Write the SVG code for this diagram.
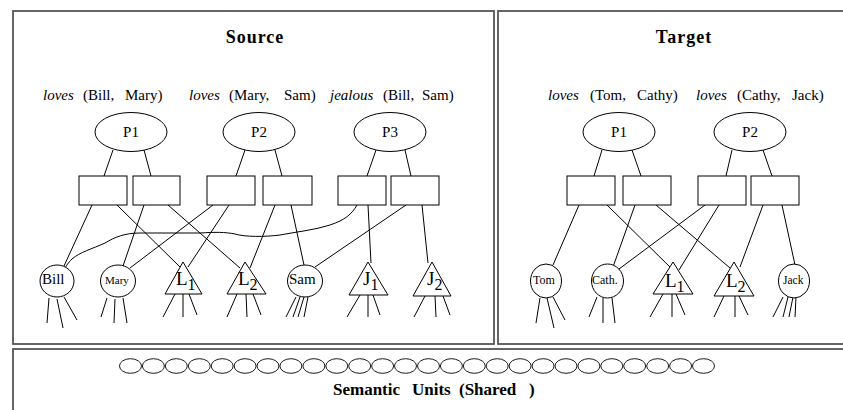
<svg xmlns="http://www.w3.org/2000/svg" width="843" height="410" viewBox="0 0 843 410">
<style>
.frame{fill:none;stroke:#555;stroke-width:1.8}
.ln{fill:none;stroke:#000;stroke-width:1}
.nd{fill:#fff;stroke:#000;stroke-width:1}
.su{fill:#fff;stroke:#000;stroke-width:0.9}
text{font-family:"Liberation Serif","Times New Roman",serif;fill:#000}
.title{font-size:18px;font-weight:bold;letter-spacing:1px}
.lbl{font-size:15px}
.it{font-style:italic}
.p{font-size:15px;text-anchor:middle}
.big{font-size:19px}
.sub{font-size:16px}
.sem{font-size:17px;font-weight:bold}
</style>
<rect width="843" height="410" fill="#fff"/>
<g id="frames">
<rect class="frame" x="13" y="11" width="481" height="333"/>
<rect class="frame" x="498" y="11" width="360" height="333"/>
<rect class="frame" x="13" y="349" width="845" height="80"/>
</g>
<g id="titles">
<text class="title" x="255" y="43" text-anchor="middle">Source</text>
<text class="title" x="684" y="43" text-anchor="middle">Target</text>
</g>
<g id="prop-labels">
<text class="lbl it" x="43" y="100">loves</text><text class="lbl" x="83" y="100">(Bill,</text><text class="lbl" x="125" y="100">Mary)</text>
<text class="lbl it" x="189" y="100">loves</text><text class="lbl" x="229" y="100">(Mary,</text><text class="lbl" x="284" y="100">Sam)</text>
<text class="lbl it" x="330" y="100">jealous</text><text class="lbl" x="383" y="100">(Bill,</text><text class="lbl" x="422" y="100">Sam)</text>
<text class="lbl it" x="548" y="100">loves</text><text class="lbl" x="590" y="100">(Tom,</text><text class="lbl" x="637" y="100">Cathy)</text>
<text class="lbl it" x="696" y="100">loves</text><text class="lbl" x="737" y="100">(Cathy,</text><text class="lbl" x="792" y="100">Jack)</text>
</g>
<g id="connectors">
<line class="ln" x1="113" y1="150" x2="104" y2="176"/>
<line class="ln" x1="144" y1="150" x2="151" y2="176"/>
<line class="ln" x1="245" y1="150" x2="236" y2="176"/>
<line class="ln" x1="275" y1="150" x2="282" y2="176"/>
<line class="ln" x1="376" y1="150" x2="367" y2="176"/>
<line class="ln" x1="405" y1="150" x2="411" y2="176"/>
<line class="ln" x1="602" y1="150" x2="594" y2="176"/>
<line class="ln" x1="632" y1="150" x2="641" y2="176"/>
<line class="ln" x1="732" y1="150" x2="726" y2="176"/>
<line class="ln" x1="763" y1="150" x2="772" y2="176"/>
<line class="ln" x1="92" y1="205" x2="64" y2="266"/>
<line class="ln" x1="117" y1="205" x2="180" y2="267"/>
<line class="ln" x1="144" y1="205" x2="123" y2="266"/>
<line class="ln" x1="168" y1="205" x2="240" y2="268"/>
<line class="ln" x1="213" y1="205" x2="130" y2="268"/>
<line class="ln" x1="229" y1="205" x2="188" y2="267"/>
<line class="ln" x1="275" y1="205" x2="250" y2="268"/>
<line class="ln" x1="291" y1="205" x2="304" y2="265"/>
<path class="ln" d="M357,205 C352,214 345,220 330,225 C315,230 295,232 280,235 C265,237 245,237 235,234 C225,232 215,232 200,233 L140,233 C125,233 115,237 105,243 C92,249 80,252 72,259 C68,263 66,266 66,267"/>
<line class="ln" x1="368" y1="205" x2="371" y2="263"/>
<line class="ln" x1="406" y1="205" x2="315" y2="267"/>
<line class="ln" x1="422" y1="205" x2="428" y2="263"/>
<line class="ln" x1="579" y1="205" x2="553" y2="265"/>
<line class="ln" x1="607" y1="205" x2="672" y2="269"/>
<line class="ln" x1="635" y1="205" x2="613" y2="267"/>
<line class="ln" x1="656" y1="205" x2="730" y2="268"/>
<line class="ln" x1="705" y1="205" x2="619" y2="269"/>
<line class="ln" x1="719" y1="205" x2="679" y2="270"/>
<line class="ln" x1="763" y1="205" x2="740" y2="267"/>
<line class="ln" x1="782" y1="205" x2="795" y2="265"/>
<path class="ln" d="M49,298 L47,323 M57,299 L63,328 M64,297 L77,320"/>
<path class="ln" d="M107,298 L101,317 M115,299 L114,323 M123,298 L127,323"/>
<path class="ln" d="M175,294 L163,317 M183,294 L183,317 M189,294 L197,315"/>
<path class="ln" d="M237,294 L227,317 M246,294 L247,317 M253,294 L261,315"/>
<path class="ln" d="M296,297 L286,317 M300,297 L293,317 M304,297 L298,317 M308,297 L304,317"/>
<path class="ln" d="M360,295 L347,317 M368,295 L368,317 M373,295 L380,315"/>
<path class="ln" d="M425,296 L414,317 M435,296 L436,317 M443,296 L450,315"/>
<path class="ln" d="M540,298 L536,323 M547,298 L554,328 M553,297 L565,320"/>
<path class="ln" d="M597,297 L589,317 M603,298 L603,323 M612,298 L615,323"/>
<path class="ln" d="M663,294 L650,317 M672,294 L672,317 M676,294 L685,315"/>
<path class="ln" d="M724,296 L714,317 M735,296 L735,317 M739,296 L748,315"/>
<path class="ln" d="M783,297 L773,317 M788,297 L783,317 M793,297 L789,317 M796,297 L795,317"/>
</g>
<g id="src-P1"><ellipse class="nd" cx="131" cy="132" rx="36" ry="19.5"/><text class="p" x="131" y="137">P1</text></g>
<g id="src-P2"><ellipse class="nd" cx="259" cy="132" rx="36" ry="19.5"/><text class="p" x="259" y="137">P2</text></g>
<g id="src-P3"><ellipse class="nd" cx="390" cy="132" rx="36" ry="19.5"/><text class="p" x="390" y="137">P3</text></g>
<g id="src-r1"><rect class="nd" x="79" y="176" width="48" height="29"/></g>
<g id="src-r2"><rect class="nd" x="133" y="176" width="47" height="29"/></g>
<g id="src-r3"><rect class="nd" x="207" y="176" width="48" height="29"/></g>
<g id="src-r4"><rect class="nd" x="263" y="176" width="49" height="29"/></g>
<g id="src-r5"><rect class="nd" x="338" y="176" width="48" height="29"/></g>
<g id="src-r6"><rect class="nd" x="391" y="176" width="48" height="29"/></g>
<g id="src-Bill"><ellipse class="nd" cx="57" cy="281" rx="17" ry="16"/><text x="42" y="284" font-size="15">Bill</text></g>
<g id="src-Mary"><ellipse class="nd" cx="118" cy="281" rx="17.5" ry="16"/><text x="105" y="284" font-size="11">Mary</text></g>
<g id="src-L1"><polygon class="nd" points="183,262 165,294 202,294"/><text x="176" y="285" class="big">L<tspan class="sub" dy="5">1</tspan></text></g>
<g id="src-L2"><polygon class="nd" points="245,262 227,294 266,294"/><text x="238" y="285" class="big">L<tspan class="sub" dy="5">2</tspan></text></g>
<g id="src-Sam"><ellipse class="nd" cx="305" cy="281" rx="17.5" ry="16"/><text x="289" y="284" font-size="15">Sam</text></g>
<g id="src-J1"><polygon class="nd" points="368,262 349,295 388,295"/><text x="363" y="285" class="big">J<tspan class="sub" dy="5">1</tspan></text></g>
<g id="src-J2"><polygon class="nd" points="432,262 413,296 451,296"/><text x="427" y="285" class="big">J<tspan class="sub" dy="5">2</tspan></text></g>
<g id="tgt-P1"><ellipse class="nd" cx="619" cy="132" rx="36" ry="19.5"/><text class="p" x="619" y="137">P1</text></g>
<g id="tgt-P2"><ellipse class="nd" cx="750" cy="132" rx="36" ry="19.5"/><text class="p" x="750" y="137">P2</text></g>
<g id="tgt-r1"><rect class="nd" x="567" y="176" width="48" height="29"/></g>
<g id="tgt-r2"><rect class="nd" x="623" y="176" width="48" height="29"/></g>
<g id="tgt-r3"><rect class="nd" x="698" y="176" width="48" height="29"/></g>
<g id="tgt-r4"><rect class="nd" x="751" y="176" width="48" height="29"/></g>
<g id="tgt-Tom"><ellipse class="nd" cx="546" cy="281" rx="15.5" ry="17"/><text x="533" y="284" font-size="12">Tom</text></g>
<g id="tgt-Cath"><ellipse class="nd" cx="607.5" cy="281" rx="16" ry="17"/><text x="592" y="284" font-size="12">Cath.</text></g>
<g id="tgt-L1"><polygon class="nd" points="673,262 653,294 693,294"/><text x="665" y="287" class="big">L<tspan class="sub" dy="5">1</tspan></text></g>
<g id="tgt-L2"><polygon class="nd" points="734,262 714,296 754,296"/><text x="726" y="287" class="big">L<tspan class="sub" dy="5">2</tspan></text></g>
<g id="tgt-Jack"><ellipse class="nd" cx="794" cy="281" rx="15.5" ry="17"/><text x="783" y="284" font-size="11.5">Jack</text></g>
<g id="semantic-units">
<ellipse class="su" cx="130.5" cy="366" rx="11" ry="7.3"/>
<ellipse class="su" cx="153.4" cy="366" rx="11" ry="7.3"/>
<ellipse class="su" cx="176.3" cy="366" rx="11" ry="7.3"/>
<ellipse class="su" cx="199.3" cy="366" rx="11" ry="7.3"/>
<ellipse class="su" cx="222.2" cy="366" rx="11" ry="7.3"/>
<ellipse class="su" cx="245.1" cy="366" rx="11" ry="7.3"/>
<ellipse class="su" cx="268.0" cy="366" rx="11" ry="7.3"/>
<ellipse class="su" cx="290.9" cy="366" rx="11" ry="7.3"/>
<ellipse class="su" cx="313.9" cy="366" rx="11" ry="7.3"/>
<ellipse class="su" cx="336.8" cy="366" rx="11" ry="7.3"/>
<ellipse class="su" cx="359.7" cy="366" rx="11" ry="7.3"/>
<ellipse class="su" cx="382.6" cy="366" rx="11" ry="7.3"/>
<ellipse class="su" cx="405.5" cy="366" rx="11" ry="7.3"/>
<ellipse class="su" cx="428.5" cy="366" rx="11" ry="7.3"/>
<ellipse class="su" cx="451.4" cy="366" rx="11" ry="7.3"/>
<ellipse class="su" cx="474.3" cy="366" rx="11" ry="7.3"/>
<ellipse class="su" cx="497.2" cy="366" rx="11" ry="7.3"/>
<ellipse class="su" cx="520.1" cy="366" rx="11" ry="7.3"/>
<ellipse class="su" cx="543.1" cy="366" rx="11" ry="7.3"/>
<ellipse class="su" cx="566.0" cy="366" rx="11" ry="7.3"/>
<ellipse class="su" cx="588.9" cy="366" rx="11" ry="7.3"/>
<ellipse class="su" cx="611.8" cy="366" rx="11" ry="7.3"/>
<ellipse class="su" cx="634.7" cy="366" rx="11" ry="7.3"/>
<ellipse class="su" cx="657.7" cy="366" rx="11" ry="7.3"/>
<ellipse class="su" cx="680.6" cy="366" rx="11" ry="7.3"/>
<ellipse class="su" cx="703.5" cy="366" rx="11" ry="7.3"/>
<text class="sem" x="333" y="395">Semantic</text>
<text class="sem" x="412" y="395">Units</text>
<text class="sem" x="459" y="395">(Shared</text>
<text class="sem" x="529" y="395">)</text>
</g>
</svg>
